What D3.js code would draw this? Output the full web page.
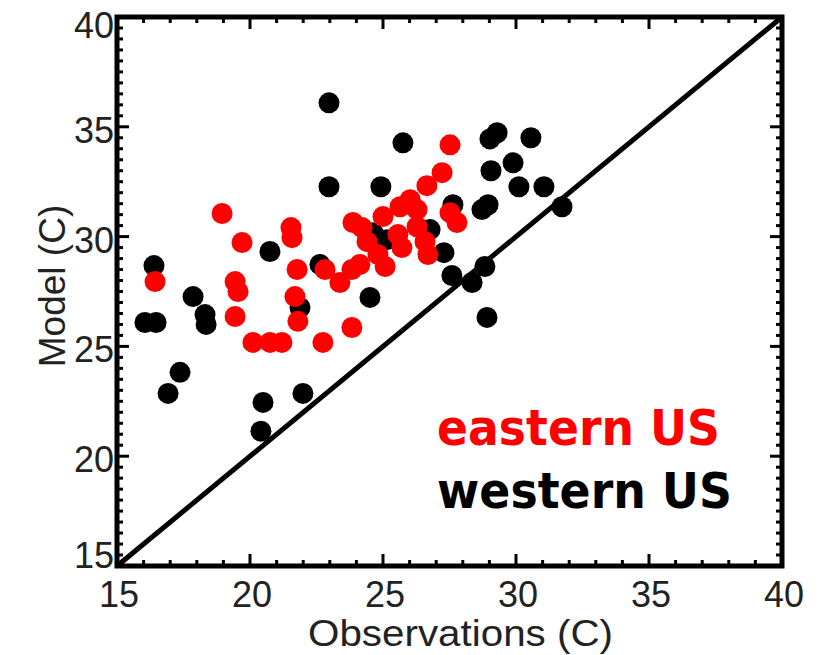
<!DOCTYPE html>
<html>
<head>
<meta charset="utf-8">
<script src="https://cdn.jsdelivr.net/npm/d3@7/dist/d3.min.js"></script>
<style>
  html, body { margin: 0; padding: 0; background: #fff; }
  svg { display: block; }
</style>
</head>
<body>
<svg id="chart" width="821" height="655"></svg>
<script>
// Western US stations: observed vs modelled temperature (C)
const westObs   = [22.97, 25.75, 22.97, 24.92, 29.02, 29.29, 30.56, 29.06, 29.89, 30.11,
                   31.05, 31.73, 28.72, 28.95, 27.63, 26.77, 27.29, 27.59, 28.35, 28.83,
                   28.91, 20.75, 16.39, 17.86, 18.31, 18.35, 16.05, 16.47, 22.63, 21.88,
                   17.37, 16.92, 20.49, 20.41, 21.99, 24.51, 24.62, 25.15];
const westModel = [36.09, 34.27, 32.27, 32.27, 34.45, 34.73, 34.50, 33.00, 33.36, 32.27,
                   32.27, 31.36, 31.23, 31.45, 31.45, 30.32, 29.27, 28.23, 27.91, 28.64,
                   26.32, 29.32, 28.68, 27.27, 26.45, 26.00, 26.09, 26.09, 28.73, 26.77,
                   23.82, 22.86, 22.45, 21.14, 22.86, 27.23, 30.18, 29.86];

// Eastern US stations
const eastObs   = [18.95, 19.70, 21.54, 21.58, 16.43, 19.44, 19.55, 21.77, 22.82, 21.69,
                   21.80, 19.44, 20.11, 20.75, 21.20, 22.74, 23.83, 23.38, 23.83, 23.87,
                   24.40, 24.81, 25.08, 25.00, 25.64, 25.71, 25.56, 26.28, 26.65, 27.22,
                   27.52, 26.58, 26.69, 27.52, 27.78, 26.28, 24.21, 26.02, 24.13];
const eastModel = [31.05, 29.73, 30.41, 29.95, 27.95, 27.95, 27.50, 28.50, 28.50, 27.27,
                   26.14, 26.36, 25.18, 25.18, 25.18, 25.18, 25.86, 27.91, 28.50, 30.64,
                   29.77, 29.18, 28.64, 30.91, 31.36, 29.50, 30.09, 31.23, 32.32, 32.91,
                   34.18, 29.77, 29.18, 31.09, 30.64, 30.45, 30.41, 31.68, 28.73];

const majorTicks = [15, 20, 25, 30, 35, 40];
const domainMin = 15, domainMax = 40;
const legendLabels = ["eastern US", "western US"];
const axisTitles = { x: "Observations (C)", y: "Model (C)" };

const svg = d3.select("#chart");

const x = d3.scaleLinear().domain([domainMin, domainMax]).range([117, 782]);
const y = d3.scaleLinear().domain([domainMin, domainMax]).range([566, 17]);

const plotLeft = x.range()[0], plotRight = x.range()[1];
const plotTop = y.range()[1], plotBottom = y.range()[0];

const xMinor = d3.range(domainMin, domainMax + 0.001, 1).filter(v => !majorTicks.includes(v));
const yMinor = d3.range(domainMin, domainMax + 0.001, 0.5).filter(v => !majorTicks.includes(v));

// Inward-pointing ticks on all four sides
const tickG = svg.append("g").attr("stroke", "#000").attr("stroke-width", 3);
function ticksX(vals, len) {
  vals.forEach(v => {
    tickG.append("line").attr("x1", x(v)).attr("x2", x(v)).attr("y1", plotBottom).attr("y2", plotBottom - len);
    tickG.append("line").attr("x1", x(v)).attr("x2", x(v)).attr("y1", plotTop).attr("y2", plotTop + len);
  });
}
function ticksY(vals, len) {
  vals.forEach(v => {
    tickG.append("line").attr("y1", y(v)).attr("y2", y(v)).attr("x1", plotLeft).attr("x2", plotLeft + len);
    tickG.append("line").attr("y1", y(v)).attr("y2", y(v)).attr("x1", plotRight).attr("x2", plotRight - len);
  });
}
ticksX(xMinor, 6);
ticksX(majorTicks, 12);
ticksY(yMinor, 6);
ticksY(majorTicks, 12);

// 1:1 line
svg.append("line")
  .attr("x1", x(domainMin)).attr("y1", y(domainMin))
  .attr("x2", x(domainMax)).attr("y2", y(domainMax))
  .attr("stroke", "#000").attr("stroke-width", 5);

// Points: western first, eastern drawn over them
const r = 10.5;
svg.append("g").selectAll("circle")
  .data(d3.zip(westObs, westModel))
  .join("circle")
  .attr("cx", d => x(d[0])).attr("cy", d => y(d[1])).attr("r", r)
  .attr("fill", "#000");

svg.append("g").selectAll("circle")
  .data(d3.zip(eastObs, eastModel))
  .join("circle")
  .attr("cx", d => x(d[0])).attr("cy", d => y(d[1])).attr("r", r)
  .attr("fill", "#ff0000");

// Frame
svg.append("rect")
  .attr("x", plotLeft).attr("y", plotTop)
  .attr("width", plotRight - plotLeft).attr("height", plotBottom - plotTop)
  .attr("fill", "none").attr("stroke", "#000").attr("stroke-width", 5);

// Tick labels
const labelFont = "'Liberation Sans', Arial, sans-serif";
svg.append("g").selectAll("text")
  .data(majorTicks)
  .join("text")
  .attr("x", d => x(d) + 2).attr("y", 607)
  .attr("text-anchor", "middle")
  .attr("font-family", labelFont).attr("font-size", 36).attr("fill", "#222")
  .text(d => d);

// End labels are nudged inward so they do not collide at the corners
const yLabelShift = d => d === domainMin ? -11 : d === domainMax ? 8 : 3;
svg.append("g").selectAll("text")
  .data(majorTicks)
  .join("text")
  .attr("x", 114).attr("y", d => y(d) + yLabelShift(d))
  .attr("dy", "0.36em")
  .attr("text-anchor", "end")
  .attr("font-family", labelFont).attr("font-size", 36).attr("fill", "#222")
  .text(d => d);

// Axis titles
svg.append("text")
  .attr("x", 308).attr("y", 646)
  .attr("textLength", 305).attr("lengthAdjust", "spacingAndGlyphs")
  .attr("font-family", labelFont).attr("font-size", 37).attr("fill", "#222")
  .text(axisTitles.x);

svg.append("text")
  .attr("transform", "translate(65," + 286 + ") rotate(-90)")
  .attr("text-anchor", "middle")
  .attr("font-family", labelFont).attr("font-size", 37).attr("fill", "#222")
  .text(axisTitles.y);

// Legend text
const legendFont = "'DejaVu Sans', Verdana, sans-serif";
svg.append("text")
  .attr("x", 437).attr("y", 445)
  .attr("font-family", legendFont).attr("font-weight", "bold").attr("font-size", 49)
  .attr("textLength", 283).attr("lengthAdjust", "spacingAndGlyphs")
  .attr("fill", "#ff0000")
  .text(legendLabels[0]);

svg.append("text")
  .attr("x", 437).attr("y", 508)
  .attr("font-family", legendFont).attr("font-weight", "bold").attr("font-size", 49)
  .attr("textLength", 295).attr("lengthAdjust", "spacingAndGlyphs")
  .attr("fill", "#000")
  .text(legendLabels[1]);
</script>
</body>
</html>
